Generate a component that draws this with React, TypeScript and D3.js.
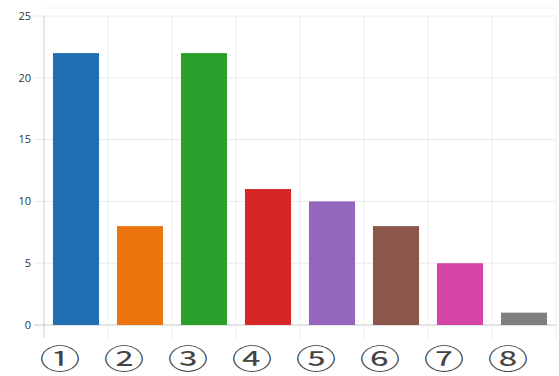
import * as d3 from 'd3';
import * as React from 'react';

const { useRef, useEffect } = React;

const width = 559;
const height = 376;
const margin = { top: 16, right: 3, bottom: 51, left: 44 };

const categories = ['①', '②', '③', '④', '⑤', '⑥', '⑦', '⑧'];
const values = [22, 8, 22, 11, 10, 8, 5, 1];
const colors = ['#1f6fb2', '#ec750e', '#2ca02c', '#d62728', '#9467bd', '#8c564b', '#d744a8', '#7f7f7f'];
const yTicks = [0, 5, 10, 15, 20, 25];

export default () => {
  const rootRef = useRef<SVGSVGElement>(null);

  useEffect(() => {
    const svg = d3.select(rootRef.current);
    svg.selectAll('*').remove();

    const x = d3
      .scaleBand()
      .domain(categories)
      .range([margin.left, width - margin.right])
      .paddingInner(0.28)
      .paddingOuter(0.14);
    const step = x.step();
    const bandLeft = (c: string) => margin.left + categories.indexOf(c) * step;

    const y = d3
      .scaleLinear()
      .domain([0, 25])
      .range([height - margin.bottom, margin.top]);

    // faint top line
    svg
      .append('line')
      .attr('x1', margin.left)
      .attr('x2', width - margin.right)
      .attr('y1', 8)
      .attr('y2', 8)
      .attr('stroke', '#f2f2f2');

    // horizontal grid + y ticks
    const yg = svg.append('g');
    yg.selectAll('line')
      .data(yTicks)
      .join('line')
      .attr('x1', margin.left - 10)
      .attr('x2', width - margin.right)
      .attr('y1', d => y(d))
      .attr('y2', d => y(d))
      .attr('stroke', d => (d === 0 ? '#c8c8c8' : '#ebebeb'));
    yg.selectAll('text')
      .data(yTicks)
      .join('text')
      .attr('x', margin.left - 13)
      .attr('y', d => y(d))
      .attr('dy', '0.35em')
      .attr('text-anchor', 'end')
      .attr('font-family', 'Open Sans, sans-serif')
      .attr('font-size', 11)
      .attr('fill', '#333')
      .text(d => d);

    // vertical grid at band boundaries
    const bounds = d3.range(categories.length + 1).map(i => margin.left + i * step);
    svg
      .append('g')
      .selectAll('line')
      .data(bounds.slice(1))
      .join('line')
      .attr('x1', d => d)
      .attr('x2', d => d)
      .attr('y1', margin.top)
      .attr('y2', y(0) + 13)
      .attr('stroke', '#ebebeb');

    // bars
    svg
      .append('g')
      .selectAll('rect')
      .data(values)
      .join('rect')
      .attr('x', (d, i) => x(categories[i]) as number)
      .attr('width', x.bandwidth())
      .attr('y', d => y(d))
      .attr('height', d => y(0) - y(d))
      .attr('fill', (d, i) => colors[i]);

    // y axis line
    svg
      .append('line')
      .attr('x1', margin.left)
      .attr('x2', margin.left)
      .attr('y1', margin.top)
      .attr('y2', y(0) + 13)
      .attr('stroke', '#d9cbb8');

    // category labels
    svg
      .append('g')
      .selectAll('text')
      .data(categories)
      .join('text')
      .attr('transform', d => `translate(${bandLeft(d) + 16},${height - 7}) scale(1.5,1)`)
      .attr('text-anchor', 'middle')
      .attr('font-family', 'Noto Sans CJK JP, sans-serif')
      .attr('font-size', 27)
      .attr('fill', '#444')
      .text(d => d);
  }, []);

  return (
    <svg
      ref={rootRef}
      width={width}
      height={height}
      style={{ position: 'absolute', left: 0, top: 0, background: '#fff' }}
    />
  );
};
